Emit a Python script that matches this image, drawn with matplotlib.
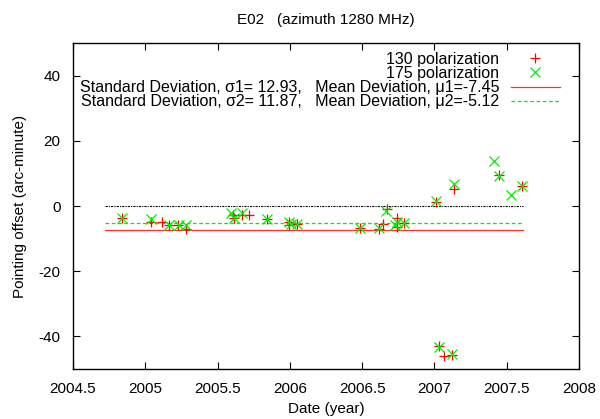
import numpy as np
import matplotlib
matplotlib.use("Agg")
import matplotlib.pyplot as plt

plt.rcParams['font.family'] = ['Liberation Sans', 'DejaVu Sans']
plt.rcParams['axes.unicode_minus'] = False

# 130 polarization (red plus)
t130 = [2004.842, 2005.04, 2005.118, 2005.163, 2005.228, 2005.283, 2005.604, 2005.616,
        2005.666, 2005.714, 2005.845, 2005.995, 2005.995, 2006.05, 2006.483, 2006.614,
        2006.644, 2006.672, 2006.74, 2006.74, 2006.787, 2007.009, 2007.032, 2007.067,
        2007.124, 2007.138, 2007.447, 2007.608]
off130 = [-3.8, -5.0, -5.0, -5.7, -5.7, -7.2, -2.8, -3.8,
          -2.8, -2.8, -4.1, -4.9, -5.9, -5.4, -6.9, -7.2,
          -5.4, -0.8, -3.8, -6.4, -5.2, 1.2, -43.0, -45.9,
          -45.7, 5.3, 9.6, 6.0]

# 175 polarization (green cross)
t175 = [2004.842, 2005.04, 2005.163, 2005.23, 2005.283, 2005.593, 2005.616, 2005.666,
        2005.845, 2005.995, 2006.005, 2006.05, 2006.483, 2006.614, 2006.665, 2006.74,
        2006.73, 2006.787, 2007.009, 2007.032, 2007.124, 2007.138, 2007.411, 2007.447,
        2007.528, 2007.608]
off175 = [-3.8, -4.0, -5.9, -5.9, -5.9, -2.1, -3.8, -2.3,
          -4.1, -4.9, -5.4, -5.6, -6.9, -6.9, -1.5, -4.9,
          -5.9, -5.2, 1.5, -43.2, -45.4, 6.6, 13.7, 9.1,
          3.5, 6.0]

sigma1, mu1 = 12.93, -7.45
sigma2, mu2 = 11.87, -5.12
span = [2004.72, 2007.61]

fig = plt.figure(figsize=(6, 4.19), dpi=100)
ax = fig.add_axes([0.1217, 0.1193, 0.8433, 0.7781])

ax.plot(t130, off130, '+', color='red', ms=7.5, mew=0.9, label='130 polarization', zorder=3)
ax.plot(t175, off175, 'x', color='#00ee00', ms=7.5, mew=0.9, label='175 polarization', zorder=3)
ax.plot(span, [mu1, mu1], '-', color='#ff3030', lw=0.9,
        label='Standard Deviation, \u03c31= %.2f,   Mean Deviation, \u03bc1=%.2f' % (sigma1, mu1))
ax.plot(span, [mu2, mu2], color='#00ee00', lw=0.9, dashes=(3, 2),
        label='Standard Deviation, \u03c32= %.2f,   Mean Deviation, \u03bc2=%.2f' % (sigma2, mu2))
ax.plot(span, [0, 0], color='black', lw=0.8, dashes=(2, 1, 1, 1))

ax.set_xlim(2004.5, 2008)
ax.set_ylim(-50, 50)
ax.set_xticks(np.arange(2004.5, 2008.01, 0.5))
ax.set_yticks([-40, -20, 0, 20, 40])
ax.xaxis.set_major_formatter(matplotlib.ticker.FormatStrFormatter('%g'))
ax.tick_params(direction='in', top=True, right=True, length=5, labelsize=11)
ax.tick_params(axis='x', pad=9)
ax.tick_params(axis='y', pad=9)
for s in ax.spines.values():
    s.set_linewidth(1.0)

ax.set_title('E02   (azimuth 1280 MHz)', fontsize=11, pad=14)
ax.set_xlabel('Date (year)', fontsize=11, labelpad=5)
ax.set_ylabel('Pointing offset (arc-minute)', fontsize=11, labelpad=8)

leg = ax.legend(loc='upper right', frameon=False, markerfirst=False, fontsize=11.5,
                handlelength=3.1, handletextpad=0.7, labelspacing=-0.05,
                borderaxespad=0.15, bbox_to_anchor=(0.98, 1.0))
for col in leg._legend_handle_box.get_children():
    col.align = 'right'

fig.savefig('out.png', dpi=100)
